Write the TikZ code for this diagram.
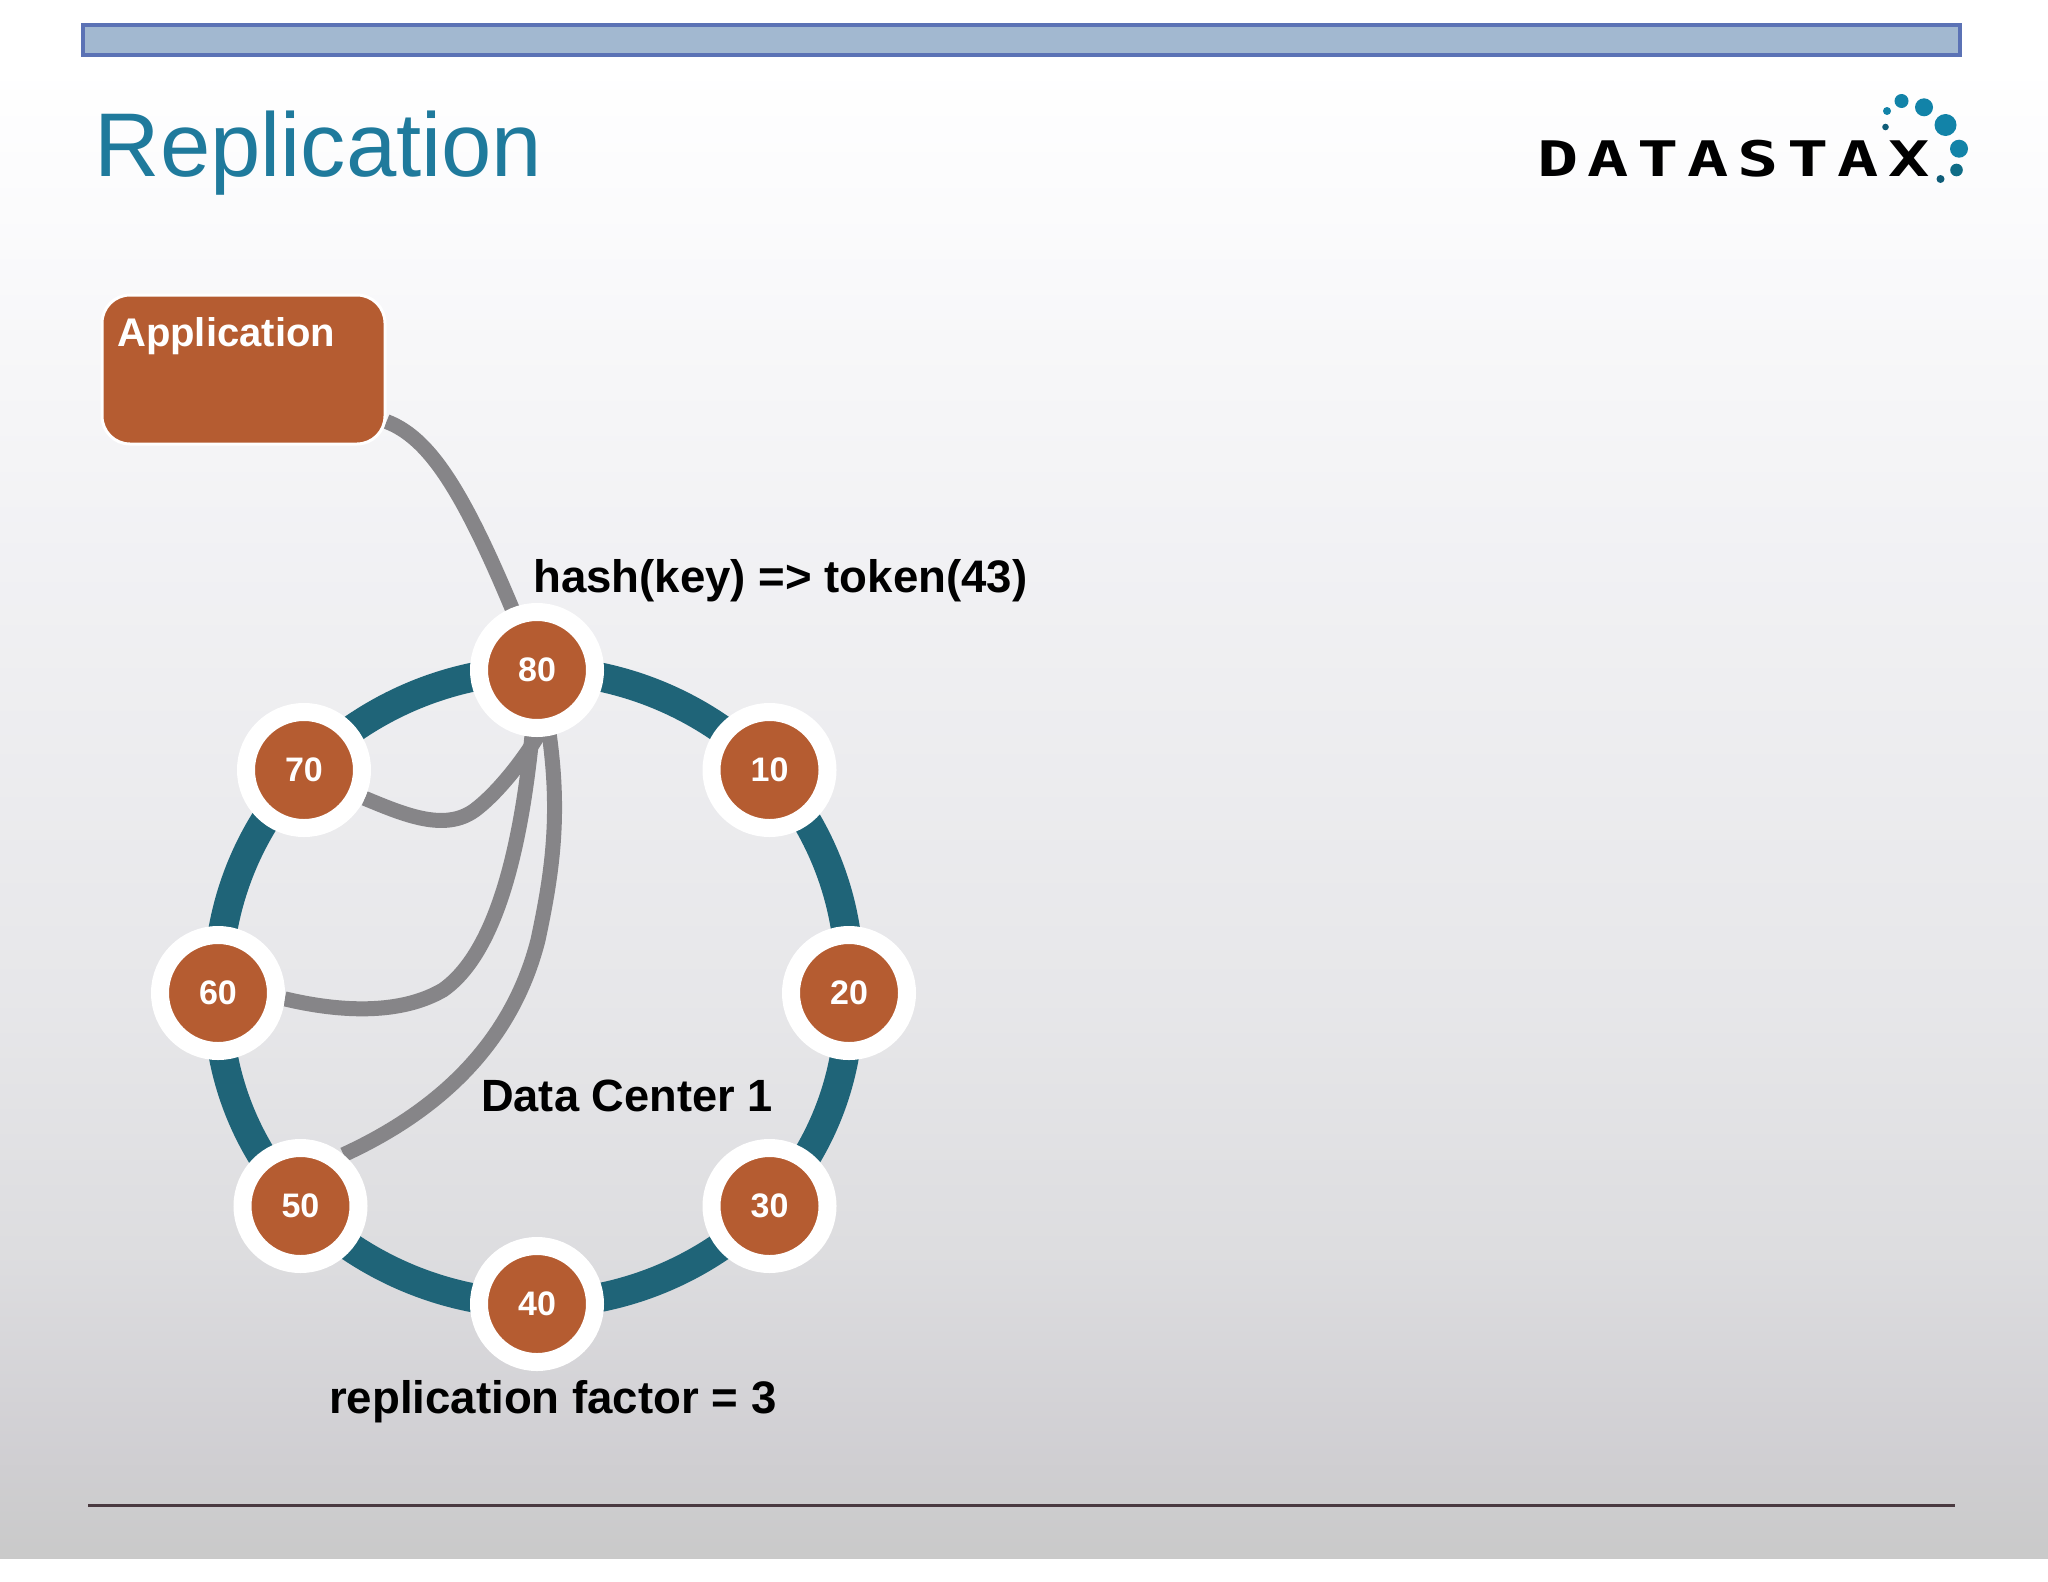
\documentclass[tikz,border=0pt]{standalone}
\usepackage{fontspec}
\setmainfont{Liberation Sans}
\newfontfamily\logofont{DejaVu Sans Mono}[FakeStretch=1.4,LetterSpace=18]
\definecolor{brownfill}{HTML}{B55C31}
\definecolor{ringteal}{HTML}{1F6478}
\definecolor{linkgrey}{HTML}{868588}
\definecolor{titleblue}{HTML}{1F7A9C}
\definecolor{barfill}{HTML}{A2B8D0}
\definecolor{barline}{HTML}{5B72B5}
\definecolor{footline}{HTML}{4A3A40}
\definecolor{dotA}{HTML}{1283A8}
\definecolor{dotB}{HTML}{0F6C86}
\definecolor{dotC}{HTML}{0F5C78}
\pgfdeclareverticalshading{slidebg}{100bp}{
  rgb(0bp)=(1,1,1);
  rgb(25bp)=(.79,.79,.79);
  rgb(28.8bp)=(.82,.815,.83);
  rgb(34.6bp)=(.865,.865,.875);
  rgb(42.9bp)=(.905,.905,.915);
  rgb(57bp)=(.945,.945,.955);
  rgb(68.6bp)=(.985,.985,.99);
  rgb(73bp)=(1,1,1);
  rgb(100bp)=(1,1,1)}
\pgfdeclarelayer{links}
\pgfsetlayers{links,main}
\tikzset{
  ringnode/.style={circle,fill=brownfill,draw=white,line width=18pt,minimum size=116pt,inner sep=0pt,
    text=white,font=\fontsize{34}{34}\selectfont\bfseries},
  ringarc/.style={draw=ringteal,line width=29pt,bend left=22.5,looseness=0.885},
  link/.style={draw=linkgrey,line width=15pt,line cap=butt,line join=round},
  lab/.style={inner sep=0pt,anchor=base west,text=black},
  dot/.style={circle,inner sep=0pt,minimum size=#1}
}
\begin{document}
\begin{tikzpicture}[x=1pt,y=-1pt]
\useasboundingbox (0,0) rectangle (2048,1582);
\begin{pgfonlayer}{links}
\shade[shading=slidebg] (0,0) rectangle (2048,1558);
\end{pgfonlayer}
\node[draw=barline,fill=barfill,line width=4pt,minimum width=1877pt,minimum height=30pt,inner sep=0pt,anchor=north west] (bar) at (80.5,22.5) {};
\node[inner sep=0pt,anchor=base west,text=titleblue,font=\fontsize{90.5}{90.5}\selectfont] (title) at (94.5,176) {Replication};
\node[inner sep=0pt,anchor=base west,text=black,font=\logofont\bfseries\fontsize{49}{49}\selectfont] (logo) at (1537,176) {DATASTAX};
\node[dot=14pt,fill=dotA] (d1) at (1901.5,101) {};
\node[dot=18pt,fill=dotA] (d2) at (1924,107.3) {};
\node[dot=22pt,fill=dotA] (d3) at (1945.5,125) {};
\node[dot=18pt,fill=dotA] (d4) at (1959,148.7) {};
\node[dot=12.6pt,fill=dotB] (d5) at (1956.5,170) {};
\node[dot=8pt,fill=dotC] (d6) at (1940.5,179) {};
\node[dot=8pt,fill=dotA] (d7) at (1887,111) {};
\node[dot=6.6pt,fill=dotC] (d8) at (1885.5,127) {};
\node[fill=brownfill,draw=white,line width=3pt,rounded corners=28pt,minimum width=283pt,minimum height=149pt,inner sep=0pt,anchor=north west] (app) at (100.5,293.5) {};
\node[inner sep=0pt,anchor=base west,text=white,font=\fontsize{40}{40}\selectfont\bfseries] (applab) at (117,346) {Application};
\node[ringnode] (n80) at (537,670) {80};
\node[ringnode] (n10) at (769.5,770) {10};
\node[ringnode] (n20) at (849,993) {20};
\node[ringnode] (n30) at (769.5,1206) {30};
\node[ringnode] (n40) at (537,1304) {40};
\node[ringnode] (n50) at (300.5,1206) {50};
\node[ringnode] (n60) at (218,993) {60};
\node[ringnode] (n70) at (304,770) {70};
\begin{pgfonlayer}{links}
\draw[ringarc] (n80.center) to (n10.center);
\draw[ringarc] (n10.center) to (n20.center);
\draw[ringarc] (n20.center) to (n30.center);
\draw[ringarc] (n30.center) to (n40.center);
\draw[ringarc] (n40.center) to (n50.center);
\draw[ringarc] (n50.center) to (n60.center);
\draw[ringarc] (n60.center) to (n70.center);
\draw[ringarc] (n70.center) to (n80.center);
\draw[link] (app.-20) .. controls (435,440) and (472,505) .. (n80.center);
\draw[link] (n70.-25) .. controls (405,815) and (445,832) .. (475,810) .. controls (495,795) and (520,765) .. (n80.south) -- (n80.center);
\draw[link] (n60.-5) .. controls (340,1012) and (400,1015) .. (443,990) .. controls (500,950) and (528,830) .. (n80.center);
\draw[link] (n50.50) .. controls (430,1115) and (510,1050) .. (538,940) .. controls (555,860) and (565,790) .. (n80.center);
\end{pgfonlayer}
\node[lab,font=\fontsize{45.6}{45.6}\selectfont\bfseries] (hash) at (533,592) {hash(key) => token(43)};
\node[lab,font=\fontsize{45.2}{45.2}\selectfont\bfseries] (dc) at (481,1111) {Data Center 1};
\node[lab,font=\fontsize{45.6}{45.6}\selectfont\bfseries] (rf) at (329,1413) {replication factor = 3};
\coordinate (fl) at (88,1505.7);
\coordinate (fr) at (1955,1505.7);
\draw[footline,line width=2.5pt] (fl) -- (fr);
\end{tikzpicture}
\end{document}
